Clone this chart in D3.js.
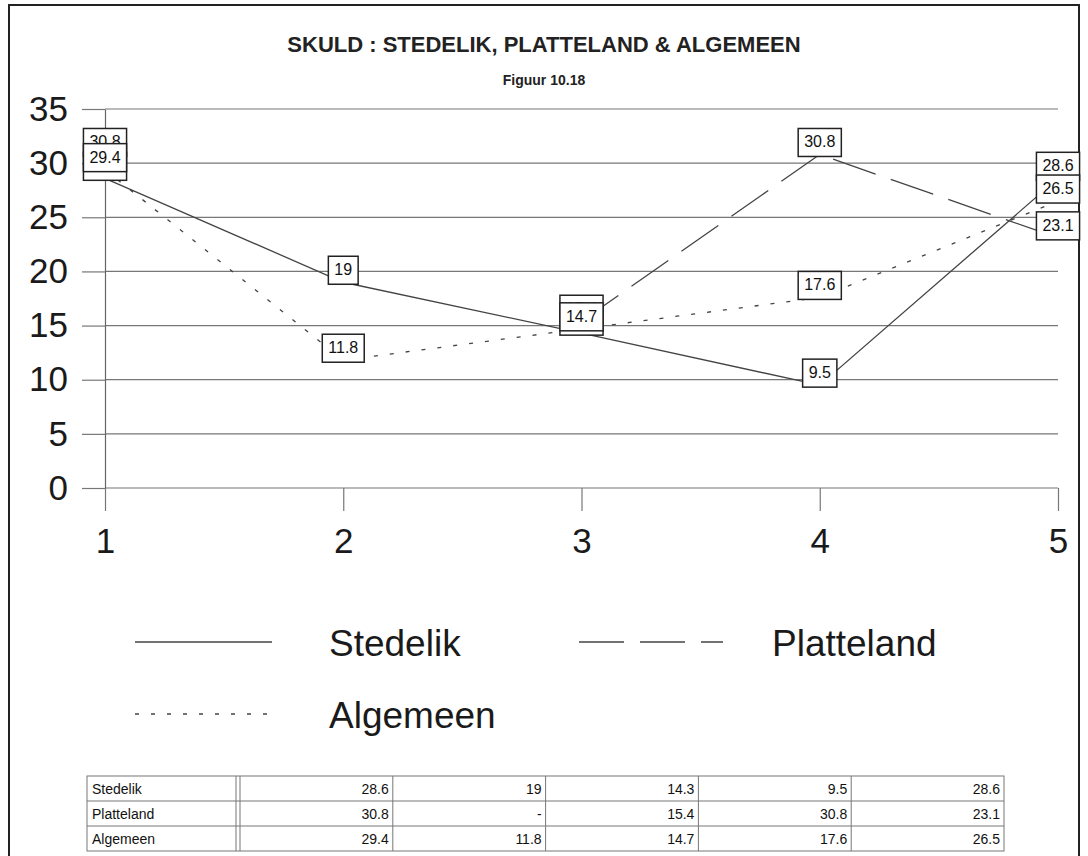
<!DOCTYPE html>
<html>
<head>
<meta charset="utf-8">
<script src="https://cdn.jsdelivr.net/npm/d3@7"></script>
<style>
  body { margin: 0; background: #fff; }
  svg { display: block; font-family: "Liberation Sans", Arial, sans-serif; }
</style>
</head>
<body>
<svg id="chart"></svg>
<script>
// data
const categories = [1, 2, 3, 4, 5];
const stedelik = [28.6, 19, 14.3, 9.5, 28.6];
const platteland = [30.8, null, 15.4, 30.8, 23.1];
const algemeen = [29.4, 11.8, 14.7, 17.6, 26.5];
const seriesNames = ["Stedelik", "Platteland", "Algemeen"];
const yTicks = [0, 5, 10, 15, 20, 25, 30, 35];

const series = [
  { name: seriesNames[0], values: stedelik, dash: null },
  { name: seriesNames[1], values: platteland, dash: "45,16" },
  { name: seriesNames[2], values: algemeen, dash: "4,12" },
];

const width = 1088;
const height = 856;
const svg = d3.select("#chart").attr("width", width).attr("height", height);

// outer frame
svg.append("rect")
  .attr("x", 9).attr("y", 5)
  .attr("width", 1070).attr("height", 900)
  .attr("fill", "none").attr("stroke", "#222").attr("stroke-width", 2);

// titles
svg.append("text")
  .attr("x", 544).attr("y", 52)
  .attr("text-anchor", "middle")
  .attr("font-size", 22).attr("font-weight", "bold").attr("fill", "#222")
  .text("SKULD : STEDELIK, PLATTELAND & ALGEMEEN");
svg.append("text")
  .attr("x", 544).attr("y", 85)
  .attr("text-anchor", "middle")
  .attr("font-size", 14).attr("font-weight", "bold").attr("fill", "#222")
  .text("Figuur 10.18");

const x = d3.scaleLinear().domain([1, 5]).range([105, 1058]);
const y = d3.scaleLinear().domain([0, 35]).range([488, 109]);

// gridlines
svg.append("g")
  .selectAll("line")
  .data(yTicks)
  .enter()
  .append("line")
  .attr("x1", x(1)).attr("x2", x(5))
  .attr("y1", (d) => y(d)).attr("y2", (d) => y(d))
  .attr("stroke", "#777").attr("stroke-width", 1.2);

// axes
const yAxis = svg.append("g")
  .attr("transform", `translate(${x(1)},0)`)
  .call(d3.axisLeft(y).tickValues(yTicks).tickSize(23).tickSizeOuter(0).tickPadding(14));
const xAxis = svg.append("g")
  .attr("transform", `translate(0,${y(0)})`)
  .call(d3.axisBottom(x).tickValues(categories).tickFormat(d3.format("d")).tickSize(23).tickSizeOuter(0).tickPadding(17));

[yAxis, xAxis].forEach((g) => {
  g.selectAll("path.domain").attr("stroke", "#666").attr("stroke-width", 1.2);
  g.selectAll(".tick line").attr("stroke", "#777").attr("stroke-width", 1.2);
  g.selectAll(".tick text")
    .attr("font-size", 35).attr("fill", "#1a1a1a")
    .attr("font-family", "Liberation Sans, Arial, sans-serif");
});
xAxis.select("path.domain").remove();

// series lines
const line = d3.line()
  .defined((d) => d != null)
  .x((d, i) => x(categories[i]))
  .y((d) => y(d));

series.forEach((s) => {
  svg.append("path")
    .datum(s.values)
    .attr("d", line)
    .attr("fill", "none")
    .attr("stroke", "#444")
    .attr("stroke-width", 1.3)
    .attr("stroke-dasharray", s.dash);
});

// boxed value labels
series.forEach((s) => {
  s.values.forEach((v, i) => {
    if (v == null) return;
    const g = svg.append("g");
    const rect = g.append("rect");
    const t = g.append("text")
      .attr("x", x(categories[i]))
      .attr("y", y(v) - 7)
      .attr("text-anchor", "middle")
      .attr("font-size", 16).attr("fill", "#111")
      .text(v);
    const w = t.node().getComputedTextLength() + 12;
    rect.attr("x", x(categories[i]) - w / 2)
      .attr("y", y(v) - 26)
      .attr("width", w).attr("height", 28)
      .attr("fill", "#fff").attr("stroke", "#222").attr("stroke-width", 1.5);
  });
});

// legend
const legendItems = [
  { s: series[0], x0: 135, x1: 272, ty: 642, tx: 329 },
  { s: series[1], x0: 579, x1: 723, ty: 642, tx: 772 },
  { s: series[2], x0: 135, x1: 275, ty: 714, tx: 329 },
];
legendItems.forEach((l) => {
  svg.append("line")
    .attr("x1", l.x0).attr("x2", l.x1)
    .attr("y1", l.ty).attr("y2", l.ty)
    .attr("stroke", "#444").attr("stroke-width", 1.3)
    .attr("stroke-dasharray", l.s.dash);
  svg.append("text")
    .attr("x", l.tx).attr("y", l.ty + 14)
    .attr("font-size", 37).attr("fill", "#1a1a1a")
    .text(l.s.name);
});

// data table
const tableLeft = 87, labelRight = 236;
const col = d3.scaleBand().domain(categories).range([240, 1004]);
const row = d3.scaleBand().domain(seriesNames).range([776, 851]);
const table = svg.append("g").attr("font-size", 14).attr("fill", "#111");

table.append("rect")
  .attr("x", tableLeft).attr("y", row.range()[0])
  .attr("width", 1004 - tableLeft).attr("height", row.range()[1] - row.range()[0])
  .attr("fill", "none").attr("stroke", "#777").attr("stroke-width", 1);

seriesNames.slice(1).forEach((n) => {
  table.append("line")
    .attr("x1", tableLeft).attr("x2", 1004)
    .attr("y1", row(n)).attr("y2", row(n))
    .attr("stroke", "#777");
});
table.append("line")
  .attr("x1", labelRight).attr("x2", labelRight)
  .attr("y1", row.range()[0]).attr("y2", row.range()[1])
  .attr("stroke", "#777");
categories.forEach((c) => {
  table.append("line")
    .attr("x1", col(c)).attr("x2", col(c))
    .attr("y1", row.range()[0]).attr("y2", row.range()[1])
    .attr("stroke", "#777");
});

series.forEach((s) => {
  const cy = row(s.name) + row.bandwidth() / 2 + 5;
  table.append("text")
    .attr("x", tableLeft + 5).attr("y", cy)
    .text(s.name);
  s.values.forEach((v, i) => {
    table.append("text")
      .attr("x", col(categories[i]) + col.bandwidth() - 4)
      .attr("y", cy)
      .attr("text-anchor", "end")
      .text(v == null ? "-" : v);
  });
});
</script>
</body>
</html>
